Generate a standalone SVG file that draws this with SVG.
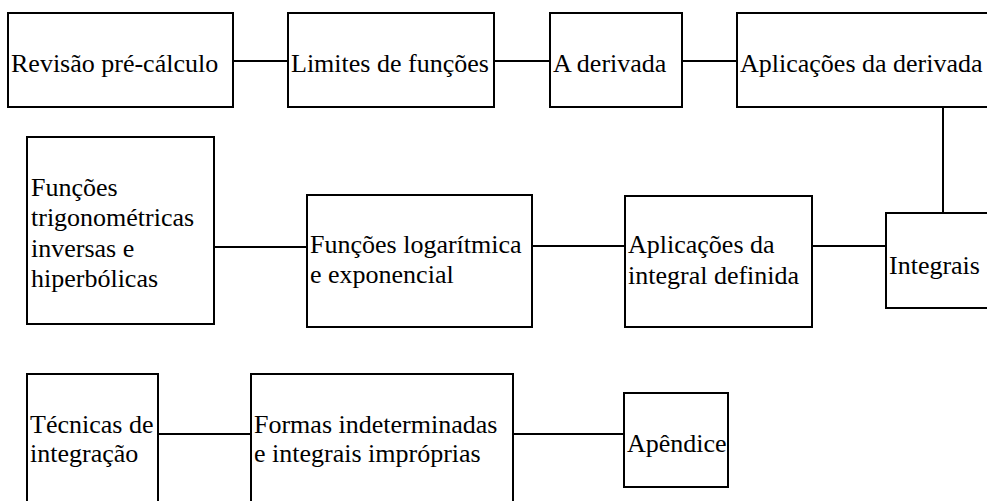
<svg xmlns="http://www.w3.org/2000/svg" width="987" height="501" viewBox="0 0 987 501">
<style>
rect{fill:#fff;stroke:#000;stroke-width:2}
line{stroke:#000;stroke-width:2}
</style>
<rect x="0" y="0" width="987" height="501" style="fill:#fff;stroke:none"/>
<g id="connectors">
<line x1="233" y1="61" x2="288" y2="61"/>
<line x1="494" y1="61" x2="550" y2="61"/>
<line x1="682" y1="61" x2="737" y2="61"/>
<line x1="943" y1="107" x2="943" y2="213"/>
<line x1="812" y1="246" x2="886" y2="246"/>
<line x1="532" y1="246" x2="625" y2="246"/>
<line x1="214" y1="247" x2="307" y2="247"/>
<line x1="158" y1="434" x2="251" y2="434"/>
<line x1="513" y1="434" x2="624" y2="434"/>
</g>
<g font-size="26" fill="#000">
<g id="n1" font-family="'Liberation Serif'"><rect x="8" y="13" width="225" height="94"/><text x="11" y="72">Revisão pré-cálculo</text></g>
<g id="n2" font-family="'Liberation Serif'"><rect x="288" y="13" width="206" height="94"/><text x="291" y="72">Limites de funções</text></g>
<g id="n3" font-family="'Liberation Serif'"><rect x="550" y="13" width="132" height="94"/><text x="553" y="72">A derivada</text></g>
<g id="n4" font-family="'Liberation Serif'"><rect x="737" y="13" width="260" height="94"/><text x="740" y="72">Aplicações da derivada</text></g>
<g id="n5" font-family="'Liberation Serif'"><rect x="886" y="213" width="110" height="95"/><text x="889" y="274">Integrais</text></g>
<g id="n6" font-family="'Liberation Serif'"><rect x="625" y="196" width="187" height="131"/><text x="628" y="253">Aplicações da</text><text x="628" y="284">integral definida</text></g>
<g id="n7" font-family="'Liberation Serif'"><rect x="307" y="195" width="225" height="132"/><text x="310" y="253">Funções logarítmica</text><text x="310" y="283">e exponencial</text></g>
<g id="n8" font-family="'Liberation Serif'"><rect x="27" y="137" width="187" height="187"/><text x="31" y="196">Funções</text><text x="31" y="226">trigonométricas</text><text x="31" y="257">inversas e</text><text x="31" y="287">hiperbólicas</text></g>
<g id="n9" font-family="'Liberation Serif'"><rect x="27" y="374" width="131" height="140"/><text x="30" y="433">Técnicas de</text><text x="30" y="462">integração</text></g>
<g id="n10" font-family="'Liberation Serif'"><rect x="251" y="374" width="262" height="140"/><text x="254" y="433">Formas indeterminadas</text><text x="254" y="462">e integrais impróprias</text></g>
<g id="n11" font-family="'Liberation Serif'"><rect x="624" y="393" width="104" height="94"/><text x="627" y="452">Apêndice</text></g>
</g>
</svg>
